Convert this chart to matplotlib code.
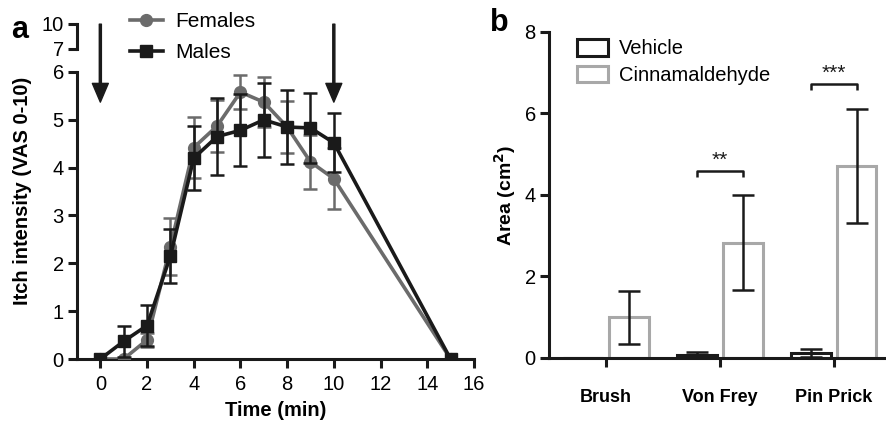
import matplotlib.pyplot as plt
import numpy as np
from matplotlib.patches import Rectangle
from matplotlib.lines import Line2D

plt.rcParams['font.family'] = ['Liberation Sans', 'DejaVu Sans']

# panel a: itch intensity time course
time_min = np.array([0, 1, 2, 3, 4, 5, 6, 7, 8, 9, 10, 15])
females = np.array([0, 0, 0.4, 2.35, 4.42, 4.87, 5.58, 5.37, 4.85, 4.12, 3.77, 0])
females_err = np.array([0, 0, 0.15, 0.6, 0.63, 0.55, 0.35, 0.52, 0.55, 0.57, 0.64, 0])
males = np.array([0, 0.37, 0.7, 2.15, 4.2, 4.65, 4.78, 5.0, 4.85, 4.83, 4.52, 0])
males_err = np.array([0, 0.33, 0.42, 0.57, 0.67, 0.8, 0.75, 0.77, 0.78, 0.74, 0.62, 0])
arrow_times = [0, 10]

# panel b: area of hyperalgesia
stimuli = ["Brush", "Von Frey", "Pin Prick"]
vehicle = np.array([0.0, 0.07, 0.12])
vehicle_err = np.array([0.0, 0.08, 0.1])
cinnamaldehyde = np.array([1.0, 2.83, 4.72])
cinnamaldehyde_err = np.array([0.65, 1.17, 1.4])
sig_index = [1, 2]
sig_labels = ["**", "***"]

BLACK = "#1a1a1a"
GRAY = "#6b6b6b"
LIGHT = "#a8a8a8"
LW = 2.2
FS = 14.5

fig = plt.figure(figsize=(8.86, 4.23), dpi=100)

ax_low = fig.add_axes([0.0869, 0.1513, 0.448, 0.6785])
ax_high = fig.add_axes([0.0869, 0.8842, 0.448, 0.0591])
ax_b = fig.add_axes([0.6196, 0.1537, 0.378, 0.7707])


def style_axis(ax):
    for s in ["top", "right"]:
        ax.spines[s].set_visible(False)
    for s in ["left", "bottom"]:
        ax.spines[s].set_linewidth(LW)
        ax.spines[s].set_color(BLACK)
    ax.tick_params(width=LW, length=6.5, color=BLACK, labelsize=FS, pad=3)


# ---- panel a ----
style_axis(ax_low)
ax_low.tick_params(axis="x", pad=5)
ax_low.errorbar(time_min, females, fmt="-o", color=GRAY, lw=2.6, ms=8.5, zorder=3)
m = females_err > 0
ax_low.errorbar(time_min[m], females[m], yerr=females_err[m], fmt="none",
                ecolor=GRAY, elinewidth=1.8, capsize=5, capthick=1.8, zorder=3)
ax_low.errorbar(time_min, males, fmt="-s", color=BLACK, lw=2.6, ms=8.5, zorder=4)
m = males_err > 0
ax_low.errorbar(time_min[m], males[m], yerr=males_err[m], fmt="none",
                ecolor=BLACK, elinewidth=1.8, capsize=5, capthick=1.8, zorder=4)

ax_low.set_xlim(-1, 16)
ax_low.set_ylim(0, 6)
ax_low.set_xticks(np.arange(0, 17, 2))
ax_low.set_yticks(range(0, 7))
ax_low.set_xlabel("Time (min)", fontsize=FS, fontweight="bold", labelpad=5)
ax_low.set_ylabel("Itch intensity (VAS 0-10)", fontsize=FS, fontweight="bold")
ax_low.yaxis.set_label_coords(-0.113, 0.585)

ax_high.set_xlim(-1, 16)
ax_high.set_ylim(7, 10)
ax_high.set_yticks([7, 10])
ax_high.patch.set_visible(False)
for s in ["top", "right", "bottom"]:
    ax_high.spines[s].set_visible(False)
ax_high.spines["left"].set_linewidth(LW)
ax_high.spines["left"].set_color(BLACK)
ax_high.tick_params(axis="y", width=LW, length=6.5, color=BLACK, labelsize=FS, pad=3)
ax_high.set_xticks([])

for t in arrow_times:
    ax_low.annotate("", xy=(t, 5.37), xytext=(t, 7.0), xycoords="data",
                    annotation_clip=False,
                    arrowprops=dict(width=1.5, headwidth=11.5, headlength=13.5,
                                    shrink=0, facecolor=BLACK, edgecolor=BLACK))

handles = [Line2D([], [], color=GRAY, marker="o", lw=2.6, ms=8.5),
           Line2D([], [], color=BLACK, marker="s", lw=2.6, ms=8.5)]
ax_low.legend(handles, ["Females", "Males"], loc="upper left",
              bbox_to_anchor=(0.13, 1.005), bbox_transform=fig.transFigure,
              frameon=False, fontsize=15, handlelength=1.6, handletextpad=0.6,
              labelspacing=0.55, borderpad=0.2)

fig.text(0.013, 0.91, "a", fontsize=22, fontweight="bold")

# ---- panel b ----
style_axis(ax_b)
x = np.arange(len(stimuli))
w = 0.35
off = 0.2
ax_b.bar(x - off, vehicle, w, facecolor="white", edgecolor=BLACK, lw=LW, zorder=2)
ax_b.bar(x + off, cinnamaldehyde, w, facecolor="white", edgecolor=LIGHT, lw=LW, zorder=2)
ax_b.errorbar(x - off, vehicle, yerr=vehicle_err, fmt="none", ecolor=BLACK,
              elinewidth=1.8, capsize=8, capthick=1.8, zorder=3)
ax_b.errorbar(x + off, cinnamaldehyde, yerr=cinnamaldehyde_err, fmt="none",
              ecolor=BLACK, elinewidth=1.8, capsize=8, capthick=1.8, zorder=3)

for i, lab in zip(sig_index, sig_labels):
    h = max(vehicle[i] + vehicle_err[i], cinnamaldehyde[i] + cinnamaldehyde_err[i]) + 0.6
    ax_b.plot([i - off, i - off, i + off, i + off], [h - 0.15, h, h, h - 0.15],
              color=BLACK, lw=1.8, solid_capstyle="butt")
    ax_b.text(i, h + 0.02, lab, ha="center", va="bottom", fontsize=15, color=BLACK)

ax_b.set_xlim(-0.5, 2.44)
ax_b.set_ylim(0, 8)
ax_b.set_yticks([0, 2, 4, 6, 8])
ax_b.set_xticks(x)
ax_b.set_xticklabels(stimuli, fontweight="bold", fontsize=13)
ax_b.tick_params(axis="x", pad=16)
ax_b.set_ylabel("Area (cm$^\\mathbf{2}$)", fontsize=14, fontweight="bold", labelpad=5)

leg_handles = [Rectangle((0, 0), 1, 1, facecolor="white", edgecolor=BLACK, lw=LW),
               Rectangle((0, 0), 1, 1, facecolor="white", edgecolor=LIGHT, lw=LW)]
ax_b.legend(leg_handles, ["Vehicle", "Cinnamaldehyde"], loc="upper left",
            bbox_to_anchor=(0.635, 0.94), bbox_transform=fig.transFigure,
            frameon=False, fontsize=14.5, handlelength=1.55, handleheight=0.85,
            handletextpad=0.55, labelspacing=0.35, borderpad=0.2)

fig.text(0.553, 0.927, "b", fontsize=22, fontweight="bold")

fig.savefig("out.png", dpi=100)
